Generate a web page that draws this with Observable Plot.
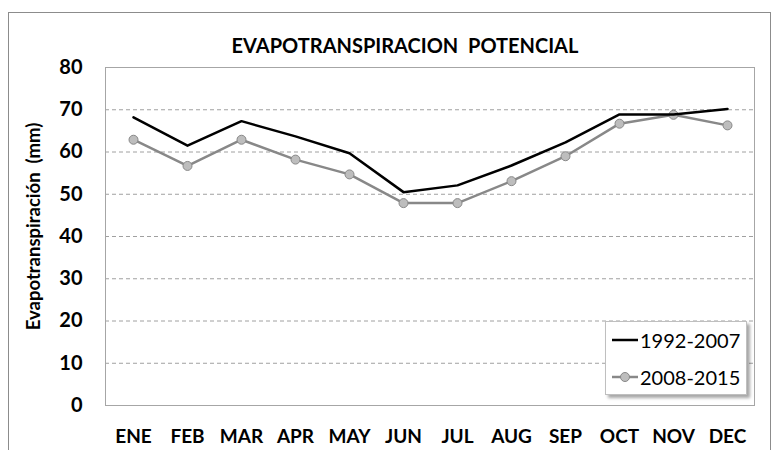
<!DOCTYPE html>
<html><head><meta charset="utf-8">
<script src="https://cdn.jsdelivr.net/npm/d3@7"></script>
<script src="https://cdn.jsdelivr.net/npm/@observablehq/plot@0.6"></script>
<style>
body{margin:0;background:#fff;font-family:Lato,"Open Sans",sans-serif;}
#wrap{position:relative;width:776px;height:450px;overflow:hidden;}
#frame{position:absolute;left:8px;top:12px;width:761px;height:460px;border:1px solid #8c8c8c;pointer-events:none;}
#legend{position:absolute;left:605px;top:321px;width:140px;height:72px;background:#fff;border:1px solid #bfbfbf;box-shadow:3px 3px 3px rgba(0,0,0,0.35);font-family:Lato,sans-serif;font-size:20px;color:#000;}
#legend .row{position:absolute;left:6px;display:flex;align-items:center;line-height:22px;}
#legend svg{margin-right:2px;}
</style></head>
<body>
<div id="wrap"><div id="chart"></div><div id="frame"></div>
<div id="legend">
<div class="row" style="top:7px"><svg width="26" height="12"><line x1="0" y1="6" x2="26" y2="6" stroke="#000" stroke-width="2.5"/></svg><span id="l1"></span></div>
<div class="row" style="top:44px"><svg width="26" height="12"><line x1="0" y1="6" x2="26" y2="6" stroke="#888" stroke-width="2.5"/><circle cx="13" cy="6" r="4.5" fill="#bdbdbd" stroke="#888" stroke-width="1"/></svg><span id="l2"></span></div>
</div>
</div>
<script>
const months = ["ENE","FEB","MAR","APR","MAY","JUN","JUL","AUG","SEP","OCT","NOV","DEC"];
const series1Name = "1992-2007";
const series1 = [68.2,61.5,67.3,63.7,59.7,50.5,52.1,56.8,62.3,68.9,68.9,70.2];
const series2Name = "2008-2015";
const series2 = [62.9,56.7,62.9,58.2,54.7,47.9,47.9,53.1,59.0,66.7,68.8,66.3];
const yTicks = [0,10,20,30,40,50,60,70,80];
const gridTicks = [10,20,30,40,50,60,70];
const title = "EVAPOTRANSPIRACION  POTENCIAL";
const yLabel = "Evapotranspiración  (mm)";

document.getElementById("l1").textContent = series1Name;
document.getElementById("l2").textContent = series2Name;

const d1 = months.map((m,i)=>({m, v: series1[i]}));
const d2 = months.map((m,i)=>({m, v: series2[i]}));

const chart = Plot.plot({
  width: 776, height: 450,
  marginLeft: 105, marginRight: 22, marginTop: 67, marginBottom: 45,
  style: {fontFamily: "Lato, sans-serif", background: "#fff"},
  x: {type: "point", domain: months, padding: 0.5, label: null},
  y: {domain: [0,80], ticks: yTicks, label: null},
  marks: [
    Plot.ruleY(gridTicks, {stroke: "#a0a0a0", strokeDasharray: "4,3", strokeWidth: 1}),
    Plot.frame({stroke: "#a6a6a6", strokeWidth: 1}),
    Plot.axisX({tickSize: 0, tickPadding: 24, fontSize: 19, fontWeight: "bold", fill: "#000", label: null}),
    Plot.axisY({ticks: yTicks, tickSize: 0, tickPadding: 23, fontSize: 20, fontWeight: "bold", fill: "#000", label: null}),
    Plot.text([yLabel], {frameAnchor: "left", dx: -71, dy: -10, rotate: -90, textAnchor: "middle", fontSize: 18.5, fontWeight: "bold", fill: "#000"}),
    Plot.text([title], {frameAnchor: "top", dx: -25, dy: -29, fontSize: 20, fontWeight: "bold", fill: "#000"}),
    Plot.line(d2, {x: "m", y: "v", stroke: "#888", strokeWidth: 2.5}),
    Plot.dot(d2, {x: "m", y: "v", r: 4.5, fill: "#bdbdbd", stroke: "#888", strokeWidth: 1}),
    Plot.line(d1, {x: "m", y: "v", stroke: "#000", strokeWidth: 2.5})
  ]
});
document.getElementById("chart").appendChild(chart);
</script>
</body></html>
